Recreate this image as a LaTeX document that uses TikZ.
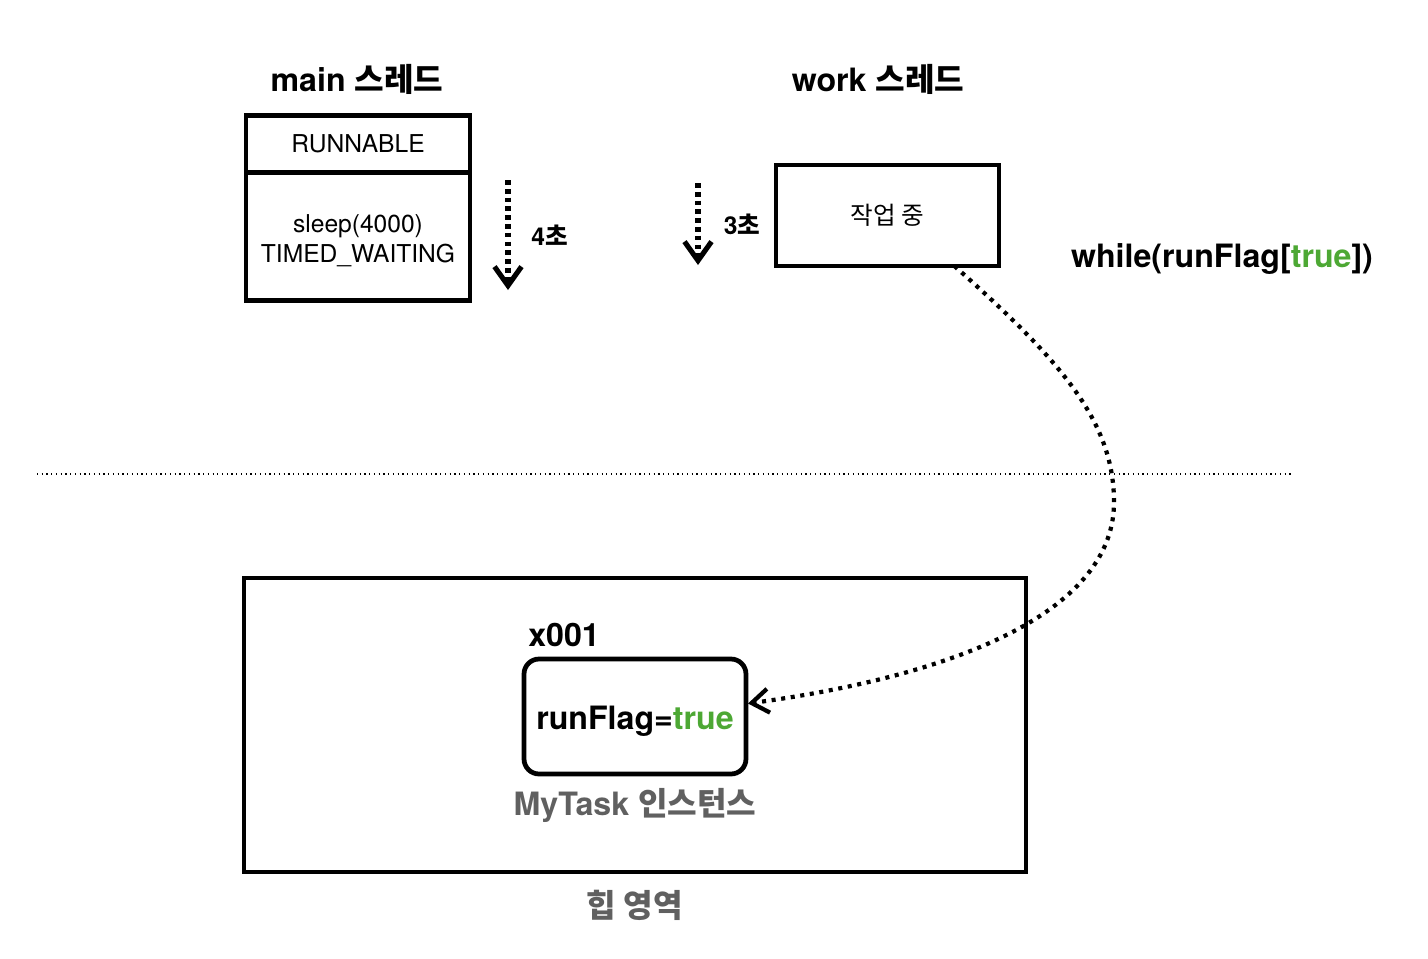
\documentclass[tikz,border=0pt]{standalone}
\usepackage{fontspec}
\setmainfont{TeX Gyre Heros}
\newfontfamily\kr{Noto Sans CJK KR}
\usetikzlibrary{positioning}
\usetikzlibrary{arrows.meta}
\usetikzlibrary{calc}
\definecolor{flaggreen}{HTML}{4DA834}
\definecolor{muted}{HTML}{606060}

\begin{document}
\begin{tikzpicture}[x=0.02cm, y=-0.02cm,
                    box/.style={draw, line width=2.7pt, outer sep=0pt, inner sep=0pt,
                                align=center, font=\fontsize{14}{17.6}\selectfont},
                    title/.style={font=\bfseries\fontsize{18.3}{22}\selectfont},
                    tick/.style={line width=2.9pt, dash pattern=on 2.7pt off 2.3pt,
                                 -{Straight Barb[length=3.8mm, width=5.4mm, line width=2.9pt]}},
                    link/.style={line width=2.4pt, dash pattern=on 2.3pt off 3.2pt,
                                 -{Straight Barb[length=3.4mm, width=4.8mm, line width=2.4pt]}}]
  \useasboundingbox (0,0) rectangle (1428,958);

  % main thread
  \node[title] (maint) at (357,79) {main {\kr 스레드}};
  \node[box, minimum width=4.48cm, minimum height=1.14cm] (runbox) at (358,144) {RUNNABLE};
  \node[box, minimum width=4.48cm, minimum height=2.56cm, below=0pt of runbox] (waitbox)
    {\rule{0pt}{15pt}sleep(4000)\\TIMED\_WAITING};
  \coordinate (m0) at (508,180);
  \coordinate (m1) at (508,290);
  \draw[tick] (m0) -- node[right=3mm, font=\bfseries\fontsize{14}{17}\selectfont] {4{\kr 초}} (m1);

  % work thread
  \node[title] (workt) at (878,79) {work {\kr 스레드}};
  \node[box, minimum width=4.46cm, minimum height=2.02cm] (work) at (887.5,215.5) {{\kr 작업 중}};
  \coordinate (w0) at (698,183);
  \coordinate (w1) at (698,265);
  \draw[tick] (w0) -- node[right=3.5mm, font=\bfseries\fontsize{14}{17}\selectfont] {3{\kr 초}} (w1);
  \node[title] (loop) at (1222,259) {while(runFlag[\textcolor{flaggreen}{true}])};

  \draw[dotted, line width=0.7pt] (37,474) -- (1294,474);

  % heap
  \node[box, minimum width=15.64cm, minimum height=5.88cm] (heap) at (635,725) {};
  \node[title] (addr) at (564,635) {x001};
  \node[box, rounded corners=0.3cm, minimum width=4.44cm, minimum height=2.3cm,
        text height=18pt, text depth=3.5pt,
        font=\bfseries\fontsize{18.3}{22}\selectfont] (flag) at (635,716.5)
    {runFlag=\textcolor{flaggreen}{true}};
  \node[title, text=muted] (inst) at (635,805) {MyTask {\kr 인스턴스}};
  \node[title, text=muted] (heapt) at (635,905) {{\kr 힙 영역}};

  \coordinate (r0) at ($(work.south west)!0.8!(work.south east)$);
  \draw[link] (r0) .. controls (1060,360) and (1113,420) .. (1114,500)
                   .. controls (1116,610) and (960,675) .. ([shift={(2,-13)}]flag.east);

\end{tikzpicture}
\end{document}
